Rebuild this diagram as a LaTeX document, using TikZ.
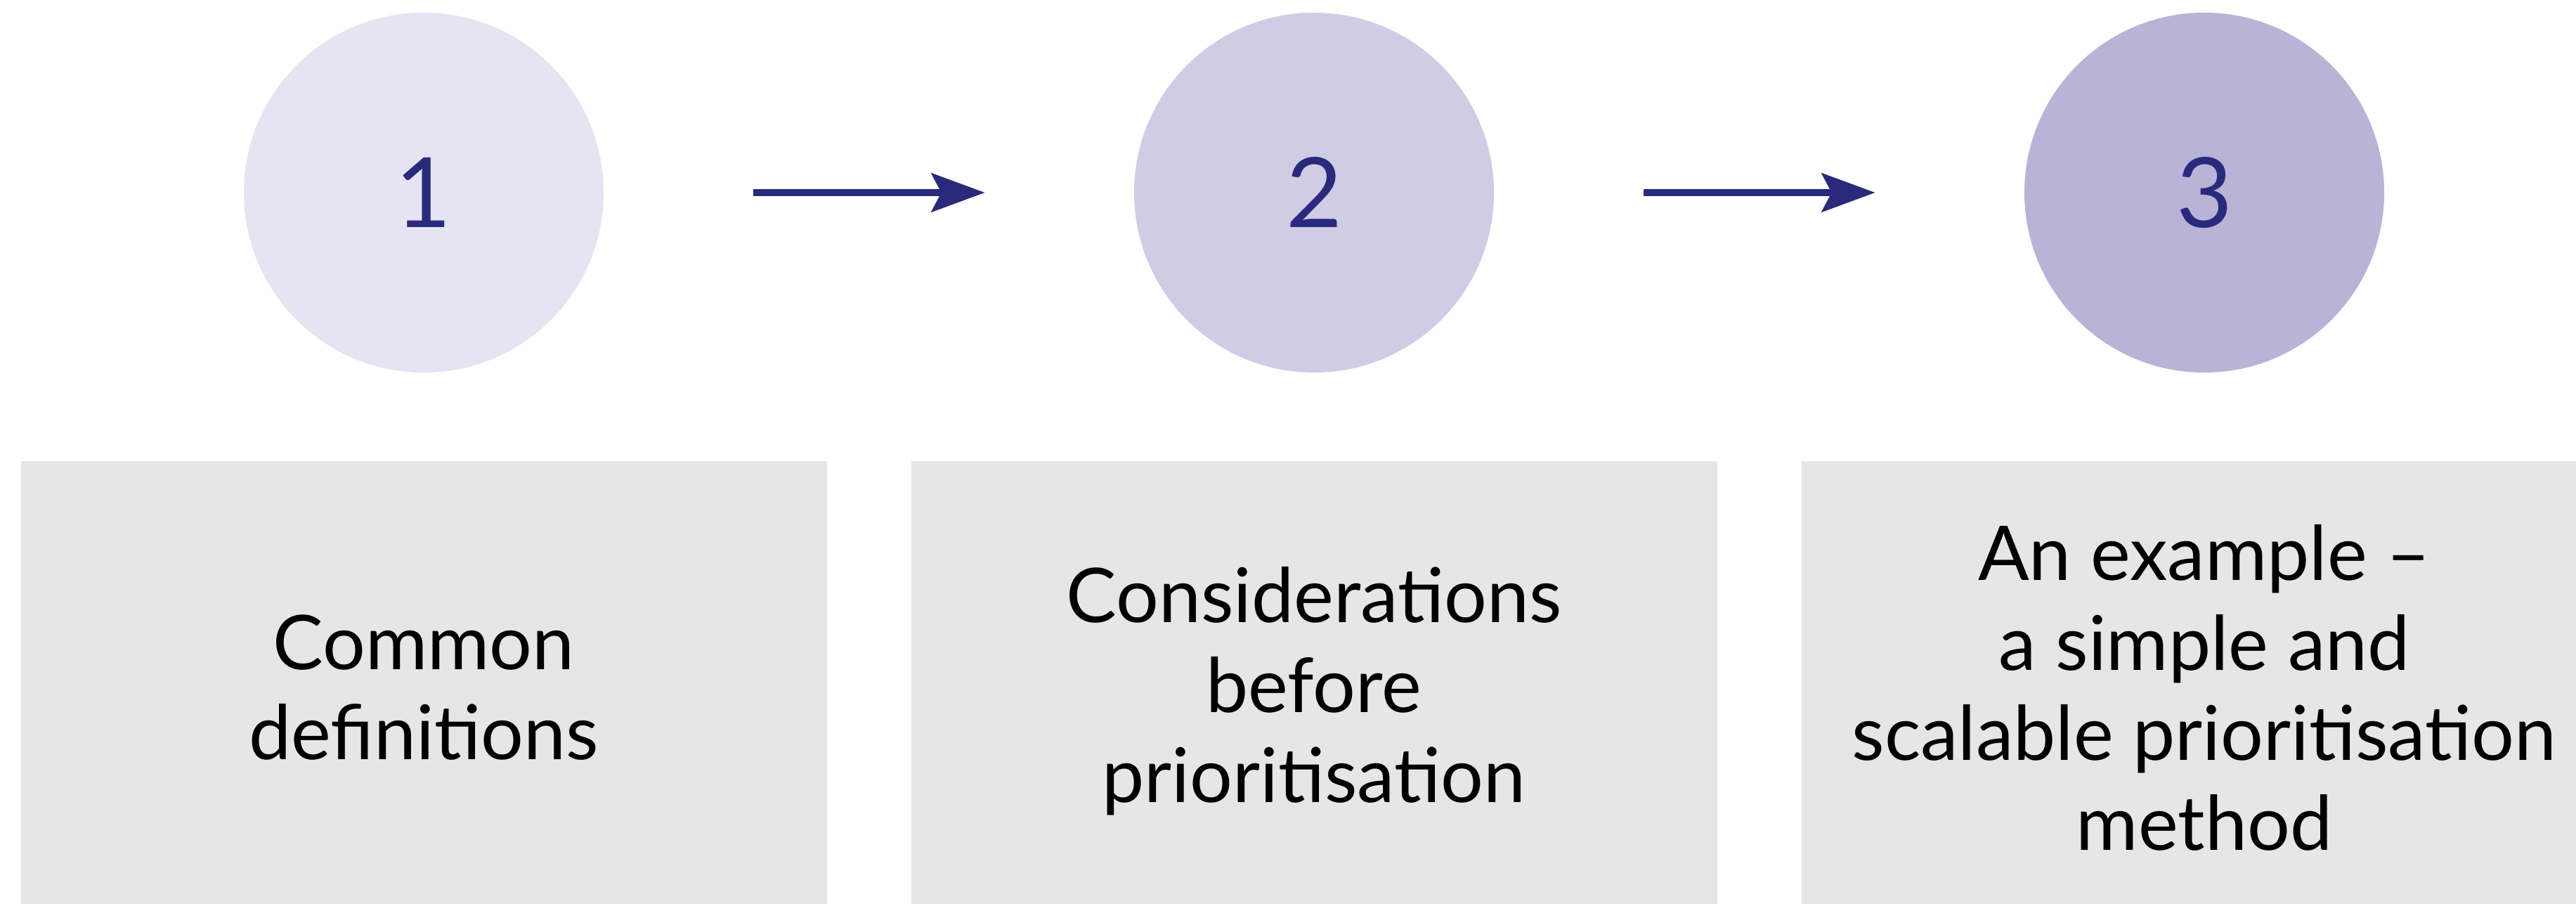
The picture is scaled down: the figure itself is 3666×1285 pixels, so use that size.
\documentclass[tikz,border=0pt]{standalone}
\usepackage{fontspec}
\setmainfont{Lato}
\usetikzlibrary{arrows.meta}
\definecolor{navy}{HTML}{2A2A7C}
\definecolor{circA}{HTML}{E6E4F3}
\definecolor{circB}{HTML}{D0CCE6}
\definecolor{circC}{HTML}{B9B3D8}
\definecolor{boxgray}{HTML}{E6E6E6}
\begin{document}
\begin{tikzpicture}[x=0.5pt,y=-0.5pt,
  stepcircle/.style={circle, minimum size=256pt, inner sep=0pt, text=navy, font=\fontsize{69}{69}\selectfont},
  stepbox/.style={rectangle, fill=boxgray, minimum width=573.5pt, minimum height=317pt, inner sep=0pt, anchor=north},
  boxtext/.style={align=center, anchor=north, inner sep=0pt, text=black, font=\fontsize{53.7}{64}\selectfont},
  flow/.style={navy, line width=5pt, -{Stealth[length=38pt,width=27.5pt,inset=7pt]}, shorten <=106.5pt, shorten >=106pt}]
\useasboundingbox (0,0) rectangle (3666,1285);
\clip (0,0) rectangle (3666,1285);
\fill[white] (0,0) rectangle (3666,1285);
\node[stepcircle, fill=circA] (c1) at (603,274) {1};
\node[stepcircle, fill=circB] (c2) at (1870,274) {2};
\node[stepcircle, fill=circC] (c3) at (3137,274) {3};
\draw[flow] (c1) -- (c2);
\draw[flow] (c2) -- (c3);
\node[stepbox] (b1) at (603,656) {};
\node[stepbox] (b2) at (1870,656) {};
\node[stepbox] (b3) at (3137,656) {};
\node[boxtext] (t1) at (603,874) {Common\\definitions};
\node[boxtext] (t2) at (1870,806) {Considerations\\before\\prioritisation};
\node[boxtext] (t3) at (3137,746) {An example –\\a simple and\\scalable prioritisation\\method};
\end{tikzpicture}
\end{document}
